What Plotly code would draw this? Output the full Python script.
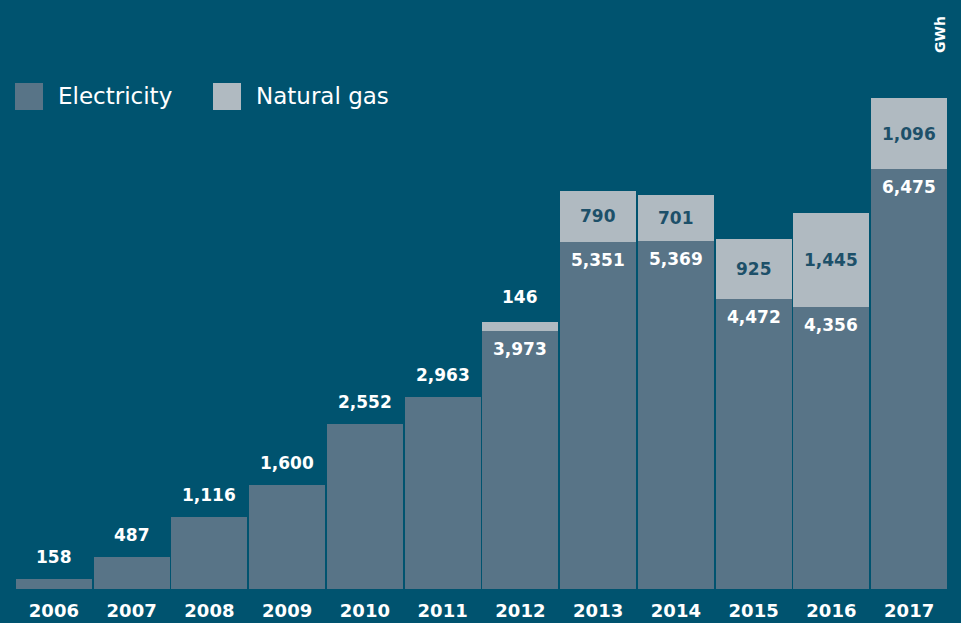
import plotly.graph_objects as go

years = ["2006", "2007", "2008", "2009", "2010", "2011", "2012", "2013", "2014", "2015", "2016", "2017"]
electricity = [158, 487, 1116, 1600, 2552, 2963, 3973, 5351, 5369, 4472, 4356, 6475]
natural_gas = [0, 0, 0, 0, 0, 0, 146, 790, 701, 925, 1445, 1096]
series_names = ["Electricity", "Natural gas"]
unit_label = "GWh"

BG = "#00536f"
ELEC = "#587487"
GAS = "#b0bac1"
GAS_TXT = "#1d5069"
FONT = "DejaVu Sans"

idx = list(range(len(years)))

fig = go.Figure()
fig.add_trace(go.Bar(x=idx, y=electricity, name=series_names[0], marker=dict(color=ELEC, line=dict(width=0))))
fig.add_trace(go.Bar(x=idx, y=[g if g else None for g in natural_gas], name=series_names[1],
                     marker=dict(color=GAS, line=dict(width=0))))

ann = []
for i, e, g in zip(idx, electricity, natural_gas):
    if g == 0:
        ann.append(dict(x=i, y=e, text=f"<b>{e:,}</b>", showarrow=False, yshift=22,
                        font=dict(family=FONT, size=17, color="white")))
    else:
        ann.append(dict(x=i, y=e, text=f"<b>{e:,}</b>", showarrow=False, yshift=-18,
                        font=dict(family=FONT, size=17, color="white")))
        tot = e + g
        if g < 300:
            ann.append(dict(x=i, y=tot, text=f"<b>{g:,}</b>", showarrow=False, yshift=25,
                            font=dict(family=FONT, size=17, color="white")))
        else:
            ann.append(dict(x=i, y=e + g / 2, text=f"<b>{g:,}</b>", showarrow=False,
                            font=dict(family=FONT, size=17, color=GAS_TXT)))

# unit label
ann.append(dict(xref="paper", yref="paper", x=1.0, y=1.0, xanchor="center", yanchor="middle",
                text=f"<b>{unit_label}</b>", textangle=-90, showarrow=False, xshift=-8, yshift=63,
                font=dict(family=FONT, size=14, color="white")))

# custom legend
shapes = []
leg_items = [(series_names[0], ELEC, 15), (series_names[1], GAS, 213)]
for name, col, x0 in leg_items:
    shapes.append(dict(type="rect", xref="paper", yref="paper",
                       x0=(x0 - 15) / 933, x1=(x0 + 28 - 15) / 933,
                       y0=(589 - 110) / 491, y1=(589 - 83) / 491,
                       fillcolor=col, line=dict(width=0)))
    ann.append(dict(xref="paper", yref="paper", x=(x0 + 41 - 15) / 933, y=(589 - 96) / 491,
                    xanchor="left", yanchor="middle", text=name, showarrow=False,
                    font=dict(family=FONT, size=23, color="white")))

totals = [e + g for e, g in zip(electricity, natural_gas)]
fig.update_layout(
    width=961, height=623,
    paper_bgcolor=BG, plot_bgcolor=BG,
    barmode="stack", bargap=0.025,
    showlegend=False,
    margin=dict(l=15, r=13, t=98, b=34, autoexpand=False),
    xaxis=dict(range=[-0.5, len(years) - 0.5], tickvals=idx, ticktext=[f"<b>{y}</b>" for y in years],
               tickfont=dict(family=FONT, size=18, color="white"), showgrid=False,
               zeroline=False, showline=False, ticks="", automargin=False, ticklabelstandoff=9),
    yaxis=dict(range=[0, max(totals)], visible=False, showgrid=False, zeroline=False, automargin=False),
    annotations=ann, shapes=shapes,
    font=dict(family=FONT, color="white"),
)

fig.write_html("out.html", config={"displayModeBar": False},
               post_script="document.body.style.margin='0';")
